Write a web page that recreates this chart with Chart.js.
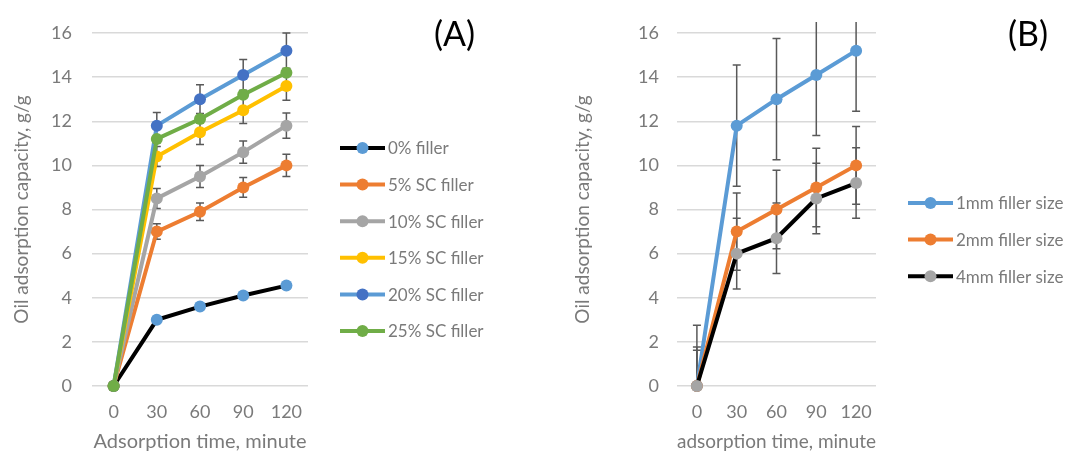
<!DOCTYPE html>
<html>
<head>
<meta charset="utf-8">
<script src="https://cdn.jsdelivr.net/npm/chart.js@4/dist/chart.umd.min.js"></script>
<style>
  body { margin: 0; background: #fff; width: 1072px; height: 452px; overflow: hidden; position: relative; font-family: Lato, sans-serif; }
  .panel { position: absolute; top: 0; height: 452px; }
  #panelA { left: 0; width: 560px; }
  #panelB { left: 560px; width: 512px; }
  .tag { position: absolute; top: 12px; font-size: 34px; color: #000; font-family: Lato, sans-serif; }
</style>
</head>
<body>
<div class="panel" id="panelA"><canvas id="chartA" width="560" height="452"></canvas></div>
<div class="panel" id="panelB"><canvas id="chartB" width="512" height="452"></canvas></div>
<div class="tag" style="left:434px">(A)</div>
<div class="tag" style="left:1008px">(B)</div>
<script>
// data
var timeLabels = ['0', '30', '60', '90', '120'];

// (A) SC filler content
var fillerLabels = ['0% filler', '5% SC filler', '10% SC filler', '15% SC filler', '20% SC filler', '25% SC filler'];
var filler0  = [0, 3.0, 3.6, 4.1, 4.55];
var filler5  = [0, 7.0, 7.9, 9.0, 10.0];
var filler10 = [0, 8.5, 9.5, 10.6, 11.8];
var filler15 = [0, 10.4, 11.5, 12.5, 13.6];
var filler20 = [0, 11.8, 13.0, 14.1, 15.2];
var filler25 = [0, 11.2, 12.1, 13.2, 14.2];
var err0  = [0, 0, 0, 0, 0];
var err5  = [0, 0.35, 0.4, 0.45, 0.5];
var err10 = [0, 0.45, 0.5, 0.5, 0.57];
var err15 = [0, 0.45, 0.55, 0.6, 0.65];
var err20 = [0, 0.6, 0.65, 0.7, 0.8];
var err25 = [0, 0, 0, 0, 0];

// (B) filler size
var sizeLabels = ['1mm filler size', '2mm filler size', '4mm filler size'];
var size1 = [0, 11.8, 13.0, 14.1, 15.2];
var size2 = [0, 7.0, 8.0, 9.0, 10.0];
var size4 = [0, 6.0, 6.7, 8.5, 9.2];
var errSize1 = [2.75, 2.75, 2.75, 2.75, 2.75];
var errSize2 = [1.77, 1.75, 1.78, 1.78, 1.76];
var errSize4 = [1.62, 1.6, 1.6, 1.6, 1.6];

var yMax = 16;
var yStep = 2;

var textGray = '#7a7a7a';
var font = 'Lato';

// error bars, drawn under the lines
var errorBars = {
  id: 'errorBars',
  beforeDatasetsDraw: function (chart) {
    var ctx = chart.ctx, area = chart.chartArea, y = chart.scales.y;
    ctx.save();
    ctx.beginPath();
    ctx.rect(area.left - 10, area.top - 11, area.right - area.left + 20, area.bottom - area.top + 11);
    ctx.clip();
    ctx.strokeStyle = '#595959';
    ctx.lineWidth = 1.5;
    chart.data.datasets.forEach(function (ds, i) {
      var meta = chart.getDatasetMeta(i);
      if (!ds.errors) return;
      ds.data.forEach(function (v, j) {
        var e = ds.errors[j];
        if (!e) return;
        var x = meta.data[j].x;
        var yt = y.getPixelForValue(v + e), yb = y.getPixelForValue(v - e);
        ctx.beginPath();
        ctx.moveTo(x, yt); ctx.lineTo(x, yb);
        ctx.moveTo(x - 4, yt); ctx.lineTo(x + 4, yt);
        ctx.moveTo(x - 4, yb); ctx.lineTo(x + 4, yb);
        ctx.stroke();
      });
    });
    ctx.restore();
  }
};

// legend with line + marker like the original
var lineLegend = {
  id: 'lineLegend',
  afterDraw: function (chart, args, opts) {
    var ctx = chart.ctx;
    ctx.save();
    chart.data.datasets.forEach(function (ds, i) {
      var cy = opts.y + i * opts.dy;
      ctx.strokeStyle = ds.borderColor;
      ctx.lineWidth = 4;
      ctx.beginPath();
      ctx.moveTo(opts.x, cy); ctx.lineTo(opts.x + 45, cy);
      ctx.stroke();
      ctx.fillStyle = ds.pointBackgroundColor;
      ctx.beginPath();
      ctx.arc(opts.x + 22.5, cy, 6, 0, Math.PI * 2);
      ctx.fill();
      ctx.fillStyle = textGray;
      ctx.font = '17px ' + font;
      ctx.textBaseline = 'middle';
      ctx.fillText(ds.label, opts.x + 48, cy + 1);
    });
    ctx.restore();
  }
};

function series(label, data, errors, line, dot, i) {
  return {
    label: label,
    data: data,
    errors: errors,
    borderColor: line,
    backgroundColor: dot,
    pointBackgroundColor: dot,
    pointBorderColor: dot,
    pointRadius: 6,
    pointBorderWidth: 0,
    borderWidth: 4,
    tension: 0,
    clip: false,
    order: -i
  };
}

function makeOptions(yWidth, yPad, titlePad, xTitle, rightPad, legend) {
  return {
    responsive: false,
    animation: false,
    layout: { padding: { top: 33, right: rightPad, left: 0, bottom: 0 } },
    plugins: { legend: { display: false }, tooltip: { enabled: false }, lineLegend: legend },
    scales: {
      x: {
        type: 'category',
        offset: true,
        grid: { display: false, drawTicks: false },
        border: { display: false },
        ticks: { color: textGray, font: { family: font, size: 18 }, padding: 15, maxRotation: 0 },
        title: { display: true, text: xTitle, color: textGray, font: { family: font, size: 20, lineHeight: 1 }, padding: 0 },
        afterFit: function (s) { s.height = 66; }
      },
      y: {
        min: 0,
        max: yMax,
        ticks: { stepSize: yStep, color: textGray, font: { family: font, size: 18 }, padding: yPad },
        grid: { color: '#d9d9d9', lineWidth: 1.5, drawTicks: false },
        border: { display: false },
        title: { display: true, text: 'Oil adsorption capacity, g/g', color: textGray, font: { family: font, size: 19 }, padding: { top: titlePad, bottom: 0 } },
        afterFit: function (s) { s.width = yWidth; }
      }
    }
  };
}

new Chart(document.getElementById('chartA'), {
  type: 'line',
  data: {
    labels: timeLabels,
    datasets: [
      series(fillerLabels[0], filler0, err0, '#000000', '#5b9bd5', 0),
      series(fillerLabels[1], filler5, err5, '#ed7d31', '#ed7d31', 1),
      series(fillerLabels[2], filler10, err10, '#a5a5a5', '#a5a5a5', 2),
      series(fillerLabels[3], filler15, err15, '#ffc000', '#ffc000', 3),
      series(fillerLabels[4], filler20, err20, '#5b9bd5', '#4472c4', 4),
      series(fillerLabels[5], filler25, err25, '#70ad47', '#70ad47', 5)
    ]
  },
  options: makeOptions(92, 20, 10, 'Adsorption time, minute', 252, { x: 340, y: 148, dy: 36.6 }),
  plugins: [errorBars, lineLegend]
});

new Chart(document.getElementById('chartB'), {
  type: 'line',
  data: {
    labels: timeLabels,
    datasets: [
      series(sizeLabels[0], size1, errSize1, '#5b9bd5', '#5b9bd5', 0),
      series(sizeLabels[1], size2, errSize2, '#ed7d31', '#ed7d31', 1),
      series(sizeLabels[2], size4, errSize4, '#000000', '#a5a5a5', 2)
    ]
  },
  options: makeOptions(117, 18, 11, 'adsorption time, minute', 196, { x: 348, y: 203, dy: 36.6 }),
  plugins: [errorBars, lineLegend]
});
</script>
</body>
</html>
